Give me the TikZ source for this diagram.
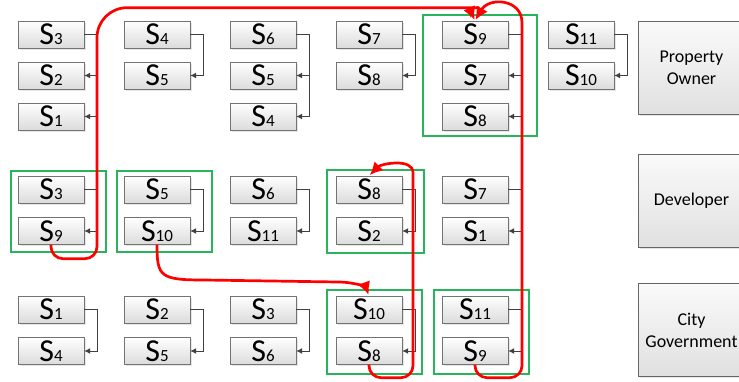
\documentclass[tikz,border=0pt]{standalone}
\usepackage{fontspec}
\setmainfont{Carlito}
\usetikzlibrary{shadows,arrows.meta}

\definecolor{groupgreen}{RGB}{40,180,90}
\newcommand{\Sidx}[1]{{\fontsize{32pt}{32pt}\selectfont S}{\fontsize{17pt}{17pt}\selectfont #1}}

\begin{document}
\begin{tikzpicture}[
		x=1pt, y=-1pt,
		sbox/.style={rectangle, draw=black!55, minimum width=66pt, minimum height=27pt, inner sep=0pt,
			top color=white, bottom color=black!14,
			drop shadow={opacity=0.2, shadow xshift=1.5pt, shadow yshift=-1.5pt}},
		role/.style={rectangle, draw=black!60, minimum width=107pt, minimum height=93pt, align=center,
			top color=black!2, bottom color=black!12, font=\fontsize{18pt}{22pt}\selectfont,
			drop shadow={opacity=0.2, shadow xshift=1.5pt, shadow yshift=-1.5pt}},
		group/.style={draw=groupgreen, line width=1.1pt},
		link/.style={draw=black!75, line width=1pt, -{Latex[length=6pt,width=6pt]}},
		flow/.style={draw=red, line width=2.7pt, shorten >=1pt, -{Latex[length=13pt,width=13pt]}}
	]
  \useasboundingbox (0,0) rectangle (739,381);

  % owner row
  \node (own_1a) [sbox] at (51,34.5) {\Sidx{3}};
  \node (own_1b) [sbox] at (51,75.5) {\Sidx{2}};
  \node (own_1c) [sbox] at (51,116.5) {\Sidx{1}};
  \node (own_2a) [sbox] at (157,34.5) {\Sidx{4}};
  \node (own_2b) [sbox] at (157,75.5) {\Sidx{5}};
  \node (own_3a) [sbox] at (263,34.5) {\Sidx{6}};
  \node (own_3b) [sbox] at (263,75.5) {\Sidx{5}};
  \node (own_3c) [sbox] at (263,116.5) {\Sidx{4}};
  \node (own_4a) [sbox] at (369,34.5) {\Sidx{7}};
  \node (own_4b) [sbox] at (369,75.5) {\Sidx{8}};
  \node (own_5a) [sbox] at (475,34.5) {\Sidx{9}};
  \node (own_5b) [sbox] at (475,75.5) {\Sidx{7}};
  \node (own_5c) [sbox] at (475,116.5) {\Sidx{8}};
  \node (own_6a) [sbox] at (581,34.5) {\Sidx{11}};
  \node (own_6b) [sbox] at (581,75.5) {\Sidx{10}};

  % developer row
  \node (dev_1a) [sbox] at (51,189.5) {\Sidx{3}};
  \node (dev_1b) [sbox] at (51,231) {\Sidx{9}};
  \node (dev_2a) [sbox] at (157,189.5) {\Sidx{5}};
  \node (dev_2b) [sbox] at (157,231) {\Sidx{10}};
  \node (dev_3a) [sbox] at (263,189.5) {\Sidx{6}};
  \node (dev_3b) [sbox] at (263,231) {\Sidx{11}};
  \node (dev_4a) [sbox] at (369,189.5) {\Sidx{8}};
  \node (dev_4b) [sbox] at (369,231) {\Sidx{2}};
  \node (dev_5a) [sbox] at (475,189.5) {\Sidx{7}};
  \node (dev_5b) [sbox] at (475,231) {\Sidx{1}};

  % government row
  \node (gov_1a) [sbox] at (51,309.5) {\Sidx{1}};
  \node (gov_1b) [sbox] at (51,351) {\Sidx{4}};
  \node (gov_2a) [sbox] at (157,309.5) {\Sidx{2}};
  \node (gov_2b) [sbox] at (157,351) {\Sidx{5}};
  \node (gov_3a) [sbox] at (263,309.5) {\Sidx{3}};
  \node (gov_3b) [sbox] at (263,351) {\Sidx{6}};
  \node (gov_4a) [sbox] at (369,309.5) {\Sidx{10}};
  \node (gov_4b) [sbox] at (369,351) {\Sidx{8}};
  \node (gov_5a) [sbox] at (475,309.5) {\Sidx{11}};
  \node (gov_5b) [sbox] at (475,351) {\Sidx{9}};

  \node (owner) [role] at (691.5,68) {Property\\Owner};
  \node (developer) [role] at (691.5,201) {Developer};
  \node (city) [role] at (691.5,330) {City\\Government};

  \draw[group] (423,15) rectangle (537,136);
  \draw[group] (11,171) rectangle (106,252);
  \draw[group] (117,171) rectangle (212,252);
  \draw[group] (327,170) rectangle (424,253);
  \draw[group] (327,290) rectangle (422,374);
  \draw[group] (434,290) rectangle (529,374);

  \foreach \a/\b in {own_1a/own_1b, own_1a/own_1c, own_2a/own_2b, own_3a/own_3b, own_3a/own_3c,
      own_4a/own_4b, own_5a/own_5b, own_5a/own_5c, own_6a/own_6b,
      dev_1a/dev_1b, dev_2a/dev_2b, dev_3a/dev_3b, dev_4a/dev_4b, dev_5a/dev_5b,
      gov_1a/gov_1b, gov_2a/gov_2b, gov_3a/gov_3b, gov_4a/gov_4b, gov_5a/gov_5b}
    \draw[link] (\a.east) -- ++(13,0) |- (\b.east);

  % red moves
  \draw[flow] (dev_1b.south) [rounded corners=12pt] -- ++(0,14) -- ++(46,0) [rounded corners=30pt] -- ++(0,-251)
    -- ++(352,0) [sharp corners] .. controls +(16,0) and +(-4,-9) .. (own_5a.north);
  \draw[flow] (gov_5b.south) [rounded corners=12pt] -- ++(0,13) -- ++(47,0) -- ++(0,-343)
    [sharp corners] .. controls +(0,-36) and +(14,-24) .. (own_5a.north);
  \draw[flow] (dev_2b.south) .. controls +(0,32) and +(-45,0) .. (205,280) -- (338,282)
    .. controls +(17,0) and +(-3,-8) .. (gov_4a.north);
  \draw[flow] (gov_4b.south) [rounded corners=12pt] -- ++(0,13) -- ++(44,0) -- ++(0,-193)
    [sharp corners] .. controls +(0,-27) and +(12,-12) .. (dev_4a.north);
\end{tikzpicture}
\end{document}
